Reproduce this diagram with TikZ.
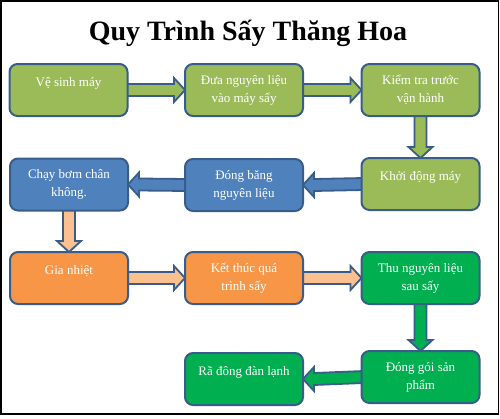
\documentclass[tikz,border=0pt]{standalone}
\usepackage{fontspec}
\setmainfont{Liberation Serif}
\usetikzlibrary{calc,backgrounds}
\definecolor{olive}{HTML}{9BBB59}
\definecolor{bblue}{HTML}{4F81BD}
\definecolor{borange}{HTML}{F79646}
\definecolor{bgreen}{HTML}{00B050}
\definecolor{peach}{HTML}{FAC090}
\definecolor{edge}{HTML}{385D8A}
\tikzset{
  stepbox/.style={draw=edge, line width=2pt, rounded corners=8pt, minimum width=118pt,
    minimum height=52pt, outer sep=0pt, inner sep=2pt, align=center, text=white,
    font=\fontsize{13}{18}\selectfont},
  oneline/.style={text height=9pt, text depth=16pt},
  blockarr/.style={draw=edge, line width=1.8pt, line join=miter},
}
\newcommand\rarr[3]{\fill[blockarr, fill=#3] ($(#1.east)+(-2,6)$) -- ($(#2.west)+(-11,6)$) -- ($(#2.west)+(-11,12)$) -- (#2.west) -- ($(#2.west)+(-11,-12)$) -- ($(#2.west)+(-11,-6)$) -- ($(#1.east)+(-2,-6)$) -- cycle;}
\newcommand\larr[3]{\fill[blockarr, fill=#3] ($(#1.west)+(2,6)$) -- ($(#2.east)+(11,6)$) -- ($(#2.east)+(11,12)$) -- (#2.east) -- ($(#2.east)+(11,-12)$) -- ($(#2.east)+(11,-6)$) -- ($(#1.west)+(2,-6)$) -- cycle;}
\newcommand\darr[3]{\fill[blockarr, fill=#3] ($(#1.south)+(6,-2)$) -- ($(#2.north)+(6,-11)$) -- ($(#2.north)+(12,-11)$) -- (#2.north) -- ($(#2.north)+(-12,-11)$) -- ($(#2.north)+(-6,-11)$) -- ($(#1.south)+(-6,-2)$) -- cycle;}
\begin{document}
\begin{tikzpicture}[x=1pt,y=-1pt]
\useasboundingbox (0,0) rectangle (500,418);
\draw[line width=1.5pt] (1,1) rectangle (498.5,414);
\node (title) at (248,33) {\fontsize{28}{32}\selectfont\bfseries Quy Trình Sấy Thăng Hoa};
\node[stepbox, oneline, fill=olive] (b1) at (68.5,90) {Vệ sinh máy};
\node[stepbox, fill=olive] (b2) at (244,90) {Đưa nguyên liệu\\vào máy sấy};
\node[stepbox, fill=olive] (b3) at (420.5,90) {Kiểm tra trước\\vận hành};
\node[stepbox, fill=bblue] (b4) at (69,184.5) {Chạy bơm chân\\không.};
\node[stepbox, fill=bblue] (b5) at (244,185) {Đóng băng\\nguyên liệu};
\node[stepbox, oneline, fill=olive] (b6) at (420.5,184) {Khởi động máy};
\node[stepbox, oneline, fill=borange] (b7) at (69,278) {Gia nhiệt};
\node[stepbox, fill=borange] (b8) at (244,278) {Kết thúc quá\\trình sấy};
\node[stepbox, fill=bgreen] (b9) at (420.5,278) {Thu nguyên liệu\\sau sấy};
\node[stepbox, oneline, fill=bgreen] (b10) at (244,379) {Rã đông đàn lạnh};
\node[stepbox, fill=bgreen] (b11) at (420.5,377) {Đóng gói sản\\phẩm};
\begin{scope}[on background layer]
\rarr{b1}{b2}{olive}
\rarr{b2}{b3}{olive}
\darr{b3}{b6}{olive}
\larr{b6}{b5}{bblue}
\larr{b5}{b4}{bblue}
\darr{b4}{b7}{peach}
\rarr{b7}{b8}{peach}
\rarr{b8}{b9}{peach}
\darr{b9}{b11}{bgreen}
\larr{b11}{b10}{bgreen}
\end{scope}
\end{tikzpicture}
\end{document}
